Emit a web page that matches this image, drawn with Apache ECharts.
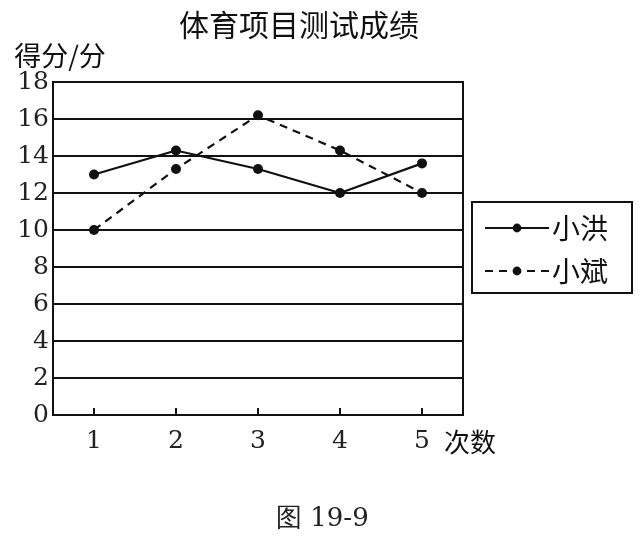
<!DOCTYPE html>
<html>
<head>
<meta charset="utf-8">
<script src="https://cdn.jsdelivr.net/npm/echarts@6/dist/echarts.min.js"></script>
<style>html,body{margin:0;padding:0;background:#fff;}#c{width:640px;height:538px;}</style>
</head>
<body>
<div id="c"></div>
<script>
const categories = ['1', '2', '3', '4', '5'];
const xiaoHong = [13, 14.3, 13.3, 12, 13.6];
const xiaoBin = [10, 13.3, 16.2, 14.3, 12];
const seriesNames = ['小洪', '小斌'];
const chartTitle = '体育项目测试成绩';
const yName = '得分/分';
const xName = '次数';
const caption = '图 19-9';

const serif = '"DejaVu Serif", "Liberation Serif", serif';
const cjk = '"Noto Sans CJK SC", sans-serif';

const chart = echarts.init(document.getElementById('c'), null, {renderer: 'canvas'});
chart.setOption({
  backgroundColor: '#fff',
  animation: false,
  title: [
    {text: chartTitle, left: 174, top: 5, textStyle: {fontFamily: cjk, fontSize: 30, fontWeight: 'normal', color: '#111'}},
    {text: caption, left: 271, top: 501, textStyle: {fontFamily: serif, fontSize: 26, fontWeight: 'normal', color: '#222'}}
  ],
  legend: {
    orient: 'vertical',
    left: 472, top: 202,
    borderColor: '#111', borderWidth: 2,
    padding: [12, 24, 8, 12],
    itemWidth: 64, itemHeight: 11,
    itemGap: 15,
    textStyle: {fontFamily: cjk, fontSize: 28, color: '#111', padding: [0, 0, 0, -2]},
    data: seriesNames
  },
  grid: {left: 53, top: 82, right: 177, bottom: 123, show: true, borderColor: '#111', borderWidth: 2, containLabel: false},
  xAxis: {
    type: 'category',
    data: categories,
    boundaryGap: true,
    name: xName,
    nameLocation: 'end',
    nameGap: -19,
    nameTextStyle: {fontFamily: cjk, fontSize: 26, color: '#111', align: 'left', verticalAlign: 'top', padding: [14, 0, 0, 0]},
    axisLine: {lineStyle: {color: '#111', width: 2}},
    axisTick: {show: true, inside: true, length: 7, alignWithLabel: true, lineStyle: {color: '#111', width: 2}},
    axisLabel: {fontFamily: serif, fontSize: 25, color: '#222', margin: 14},
    splitLine: {show: false}
  },
  yAxis: {
    type: 'value',
    min: 0, max: 18, interval: 2,
    name: yName,
    nameLocation: 'end',
    nameGap: 13,
    nameTextStyle: {fontFamily: cjk, fontSize: 27, color: '#111', padding: [0, 0, 0, 14]},
    axisLine: {show: true, lineStyle: {color: '#111', width: 2}},
    axisTick: {show: false},
    axisLabel: {fontFamily: serif, fontSize: 25, color: '#222', margin: 4},
    splitLine: {show: true, lineStyle: {color: '#111', width: 2}}
  },
  series: [
    {
      name: seriesNames[0], type: 'line', data: xiaoHong,
      symbol: 'circle', symbolSize: 10,
      itemStyle: {color: '#111'},
      lineStyle: {color: '#111', width: 2.2, type: 'solid'}
    },
    {
      name: seriesNames[1], type: 'line', data: xiaoBin,
      symbol: 'circle', symbolSize: 10,
      itemStyle: {color: '#111'},
      lineStyle: {color: '#111', width: 2.2, type: [8, 6]}
    }
  ]
});
</script>
</body>
</html>
